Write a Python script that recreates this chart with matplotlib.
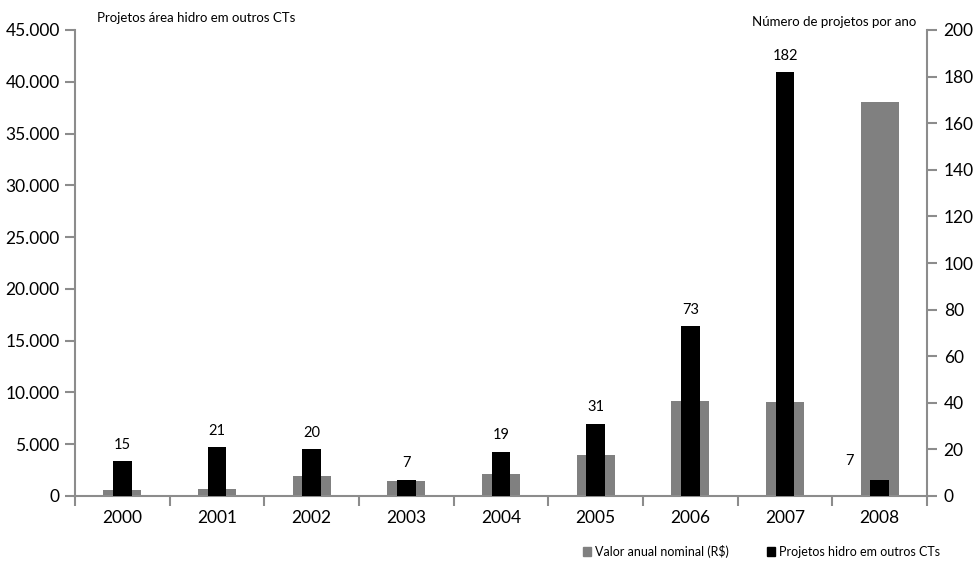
import matplotlib
matplotlib.use("Agg")
import matplotlib.pyplot as plt
import numpy as np
from matplotlib.ticker import FuncFormatter
from matplotlib.patches import Patch

plt.rcParams['font.family'] = ['Lato', 'DejaVu Sans']

years = ['2000', '2001', '2002', '2003', '2004', '2005', '2006', '2007', '2008']
valor = [580, 700, 1930, 1480, 2120, 3960, 9200, 9100, 38000]
projetos = [15, 21, 20, 7, 19, 31, 73, 182, 7]

gray = '#808080'
spine_c = '#8c8c8c'

fig = plt.figure(figsize=(9.75, 5.71), dpi=100)
ax = fig.add_axes([75/975, 1-496/571, (927-75)/975, (496-30)/571])
ax2 = ax.twinx()

x = np.arange(len(years))
ax.bar(x, valor, width=0.40, color=gray, zorder=2)
ax2.bar(x, projetos, width=0.20, color='black', zorder=3)

ax.set_xlim(-0.5, len(years)-0.5)
ax.set_ylim(0, 45000)
ax2.set_ylim(0, 200)
ax.set_yticks(np.arange(0, 45001, 5000))
ax2.set_yticks(np.arange(0, 201, 20))
ax.yaxis.set_major_formatter(FuncFormatter(lambda v, p: f"{int(v):,}".replace(',', '.')))

ax.set_xticks(x)
ax.set_xticklabels(years)
ax.set_xticks(np.arange(-0.5, len(years)), minor=True)
ax.tick_params(axis='x', which='major', length=0, labelsize=12.5, pad=10)
ax.tick_params(axis='x', which='minor', length=7, color=spine_c, width=1.5, direction='out')
ax.tick_params(axis='y', labelsize=12.5, length=7, color=spine_c, width=1.5, direction='out', pad=4)
ax2.tick_params(axis='y', labelsize=12.5, length=7, color=spine_c, width=1.5, direction='out', pad=5)

for a in (ax, ax2):
    a.spines['top'].set_visible(False)
    for s in ('left', 'right', 'bottom'):
        a.spines[s].set_color(spine_c)
        a.spines[s].set_linewidth(1.5)
ax.spines['right'].set_visible(False)
ax2.spines['left'].set_visible(False)
ax2.spines['bottom'].set_visible(False)

for i, v in enumerate(projetos):
    if i == len(projetos) - 1:
        ax2.text(i - 0.32, v + 5, str(v), ha='center', va='bottom', fontsize=10.5)
    else:
        ax2.text(i, v + 4, str(v), ha='center', va='bottom', fontsize=10.5)

fig.text(97/975, 1-18/571, 'Projetos área hidro em outros CTs', fontsize=9.5, va='center', ha='left')
fig.text(916/975, 1-22/571, 'Número de projetos por ano', fontsize=9.5, va='center', ha='right')

handles = [Patch(color=gray, label='Valor anual nominal (R$)'),
           Patch(color='black', label='Projetos hidro em outros CTs')]
fig.legend(handles=handles, loc='center right', bbox_to_anchor=(945/975, 1-551/571), ncol=2,
           frameon=False, fontsize=9, handlelength=0.7, handleheight=0.7,
           handletextpad=0.3, columnspacing=3.0, borderaxespad=0)

fig.savefig('out.png', dpi=100)
